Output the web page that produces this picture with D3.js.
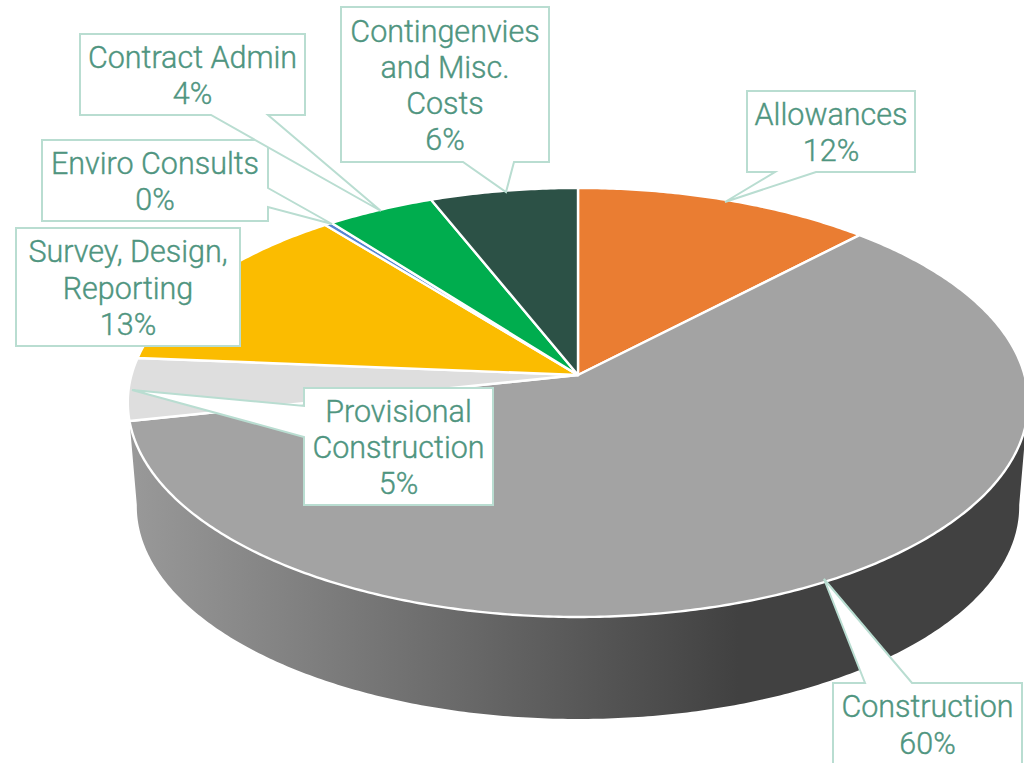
<!DOCTYPE html>
<html>
<head>
<meta charset="utf-8">
<script src="https://cdn.jsdelivr.net/npm/d3@7"></script>
<style>
  html, body { margin: 0; padding: 0; background: #fff; overflow: hidden; }
  svg { display: block; }
</style>
</head>
<body>
<div id="chart"></div>
<script>
// Data, clockwise from 12 o'clock
const categories = ["Allowances", "Construction", "Provisional Construction", "Survey, Design, Reporting", "Enviro Consults", "Contract Admin", "Contingenvies and Misc. Costs"];
const shares = [12.1, 59.5, 4.7, 13.0, 0.3, 4.4, 6.0];
const colors = ["#ea7d32", "#a3a3a3", "#dedede", "#fbbc00", "#5585d0", "#00ad4e", "#2c5146"];
const labelLines = [
  ["Allowances"],
  ["Construction"],
  ["Provisional", "Construction"],
  ["Survey, Design,", "Reporting"],
  ["Enviro Consults"],
  ["Contract Admin"],
  ["Contingenvies", "and Misc.", "Costs"]
];

// Callout layout: box [x0, y0, x1, y1], pointer base and pointer tip
const callouts = [
  { box: [747, 91, 915, 172], base: [[816, 172], [775, 172]], tip: [725, 202] },
  { box: [833, 683, 1022, 790], base: [[865, 683], [912, 683]], tip: [824, 579], side: "top" },
  { box: [304, 388, 493, 505], base: [[304, 437], [304, 406]], tip: [132, 390], side: "left" },
  { box: [16, 228, 240, 346] },
  { box: [42, 140, 268, 221], base: [[268, 188], [268, 207]], tip: [332, 224], side: "right" },
  { box: [80, 34, 305, 115], base: [[268, 115], [211, 115]], tip: [381, 211] },
  { box: [341, 7, 549, 162], base: [[514, 162], [463, 162]], tip: [506, 192] }
];

const viewW = 1024, viewH = 763;
const apex = { x: 578, y: 375 };
const radiusX = 446.5, radiusY = 211, tilt = 0.128;
const depth = 104, depthScale = 0.98;
const lineH = 36.2;

const svg = d3.select("#chart").append("svg")
  .attr("width", viewW)
  .attr("height", viewH)
  .attr("viewBox", `0 0 ${viewW} ${viewH}`);

// perspective view of a flat disc, level 0 = top face, level 1 = bottom rim
const project = (angle, level = 0) => {
  const ux = Math.sin(angle), uy = -Math.cos(angle);
  const w = 1 - tilt * uy;
  const s = level ? depthScale : 1;
  return [
    apex.x + s * radiusX * ux / w,
    apex.y + (level ? depth : 0) + (level ? 1.012 : 1) * s * radiusY * uy / w
  ];
};

const line = d3.line();
const arcPoints = (a0, a1, level = 0) => {
  const n = Math.max(2, Math.ceil(Math.abs(a1 - a0) / 0.01));
  return d3.range(n + 1).map(i => project(a0 + (a1 - a0) * i / n, level));
};

const pie = d3.pie().sort(null).value(d => d)(shares);

// Side wall gradient
const grad = svg.append("defs").append("linearGradient")
  .attr("id", "side")
  .attr("gradientUnits", "userSpaceOnUse")
  .attr("x1", 130).attr("x2", 1025).attr("y1", 0).attr("y2", 0);
grad.append("stop").attr("offset", 0).attr("stop-color", "#999999");
grad.append("stop").attr("offset", 0.68).attr("stop-color", "#414141");
grad.append("stop").attr("offset", 1).attr("stop-color", "#414141");

const wallStart = Math.PI * 97 / 180, wallEnd = Math.PI * 263 / 180;
svg.append("path")
  .attr("d", line([...arcPoints(wallStart, wallEnd, 0), ...arcPoints(wallEnd, wallStart, 1)]) + "Z")
  .attr("fill", "url(#side)");

// Top face slices
svg.append("g").selectAll("path")
  .data(pie)
  .join("path")
  .attr("d", d => line([[apex.x, apex.y], ...arcPoints(d.startAngle, d.endAngle)]) + "Z")
  .attr("fill", (d, i) => colors[i])
  .attr("stroke", "#ffffff")
  .attr("stroke-width", 2.4)
  .attr("stroke-linejoin", "round");

// Callouts
const outline = c => {
  const [x0, y0, x1, y1] = c.box;
  if (!c.tip) return line([[x0, y0], [x1, y0], [x1, y1], [x0, y1]]) + "Z";
  const wedge = [c.base[0], c.tip, c.base[1]];
  let pts;
  if (c.side === "top") pts = [[x0, y0], ...wedge, [x1, y0], [x1, y1], [x0, y1]];
  else if (c.side === "left") pts = [[x0, y0], [x1, y0], [x1, y1], [x0, y1], ...wedge];
  else if (c.side === "right") pts = [[x0, y0], [x1, y0], ...wedge, [x1, y1], [x0, y1]];
  else pts = [[x0, y0], [x1, y0], [x1, y1], ...wedge, [x0, y1]];
  return line(pts) + "Z";
};

const labels = svg.append("g").selectAll("g")
  .data(callouts)
  .join("g");

labels.append("path")
  .attr("d", outline)
  .attr("fill", "#ffffff")
  .attr("stroke", "#b9ddd1")
  .attr("stroke-width", 2);

labels.append("text")
  .attr("text-anchor", "middle")
  .attr("fill", "#4f9580")
  .attr("stroke", "#4f9580")
  .attr("stroke-width", 0.4)
  .style("font-family", "Roboto, sans-serif")
  .style("font-weight", 300)
  .style("font-size", "30.5px")
  .each(function (c, i) {
    const rows = [...labelLines[i], d3.format(".0f")(shares[i]) + "%"];
    const cx = (c.box[0] + c.box[2]) / 2;
    // Construction's box runs off the page, its text block starts from the top edge
    const cy = i === 1 ? c.box[1] + 41 : (c.box[1] + c.box[3]) / 2;
    d3.select(this).selectAll("tspan")
      .data(rows)
      .join("tspan")
      .attr("x", cx)
      .attr("y", (d, j) => cy + (j - (rows.length - 1) / 2) * lineH + 11.5)
      .text(d => d);
  });
</script>
</body>
</html>
